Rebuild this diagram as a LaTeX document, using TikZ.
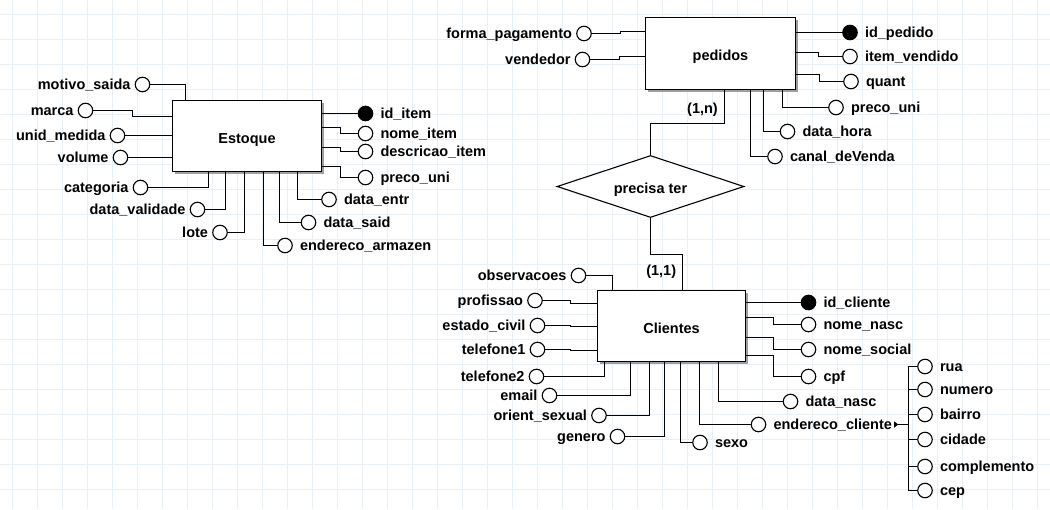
\documentclass[tikz,border=0pt]{standalone}
\usepackage{fontspec}
\setmainfont{Liberation Sans}
\usepackage{tikz}
\usetikzlibrary{shapes,arrows.meta}
\usetikzlibrary{positioning}
\usetikzlibrary{shadows}
\definecolor{gridblue}{RGB}{232,240,246}
\tikzstyle{entity} = [draw, rectangle, fill=white, line width=1.1pt,
font=\fontsize{14.5}{17}\selectfont\bfseries, text height=14.4pt, text depth=0pt,
drop shadow={shadow xshift=2.5pt, shadow yshift=-2.5pt, fill=gray!75, opacity=1}]
\tikzstyle{relation} = [draw, diamond, fill=white, line width=1.1pt, aspect=3,
minimum width=187pt, minimum height=62pt, inner sep=0pt,
font=\fontsize{14.5}{17}\selectfont\bfseries, text height=14.4pt, text depth=0pt]
\tikzstyle{conn} = [draw, line width=1.1pt]

\begin{document}
\begin{tikzpicture}[x=1pt, y=-1pt,
	attr/.style={circle, draw, fill=white, line width=1.1pt, minimum size=14.5pt, inner sep=0pt},
	pkattr/.style={attr, fill=black},
	lbl/.style={font=\fontsize{14.5}{17}\selectfont\bfseries, text height=10.4pt, text depth=0pt, inner sep=0pt}]
	\useasboundingbox (0,0) rectangle (1050,509);
	%% Grid
	\foreach \gx in {12.5,37.5,...,1037.5}
		\draw[gridblue, line width=0.9pt] (\gx,0) -- (\gx,509);
	\foreach \gy in {14,39,...,489}
		\draw[gridblue, line width=0.9pt] (0,\gy) -- (1050,\gy);

	%% Entities
	\node[entity, minimum width=149pt, minimum height=71pt] (estoque) at (247,136) {Estoque};
	\node[entity, minimum width=150pt, minimum height=72pt] (pedidos) at (720.5,53.5) {pedidos};
	\node[entity, minimum width=148pt, minimum height=71pt] (clientes) at (671.5,326) {Clientes};
	\node[relation] (precisa) at (650.5,186.5) {precisa ter};

	%% Estoque attributes
	\node[pkattr] (c-iditem) at (365.5,113.5) {};
	\node[lbl, right=7pt of c-iditem] (t-iditem) {id\_item};
	\node[attr] (c-nomeitem) at (365.5,133.5) {};
	\node[lbl, right=7pt of c-nomeitem] (t-nomeitem) {nome\_item};
	\node[attr] (c-descr) at (365.5,151.5) {};
	\node[lbl, right=7pt of c-descr] (t-descr) {descricao\_item};
	\node[attr] (c-precoE) at (365.5,177.5) {};
	\node[lbl, right=7pt of c-precoE] (t-precoE) {preco\_uni};
	\node[attr] (c-dataentr) at (329,199.5) {};
	\node[lbl, right=7pt of c-dataentr] (t-dataentr) {data\_entr};
	\node[attr] (c-datasaid) at (308.5,222.5) {};
	\node[lbl, right=7pt of c-datasaid] (t-datasaid) {data\_said};
	\node[attr] (c-endarm) at (285,245.5) {};
	\node[lbl, right=7pt of c-endarm] (t-endarm) {endereco\_armazen};
	\node[attr] (c-lote) at (220,232.5) {};
	\node[lbl, left=4pt of c-lote] (t-lote) {lote};
	\node[attr] (c-validade) at (197.5,209.5) {};
	\node[lbl, left=4pt of c-validade] (t-validade) {data\_validade};
	\node[attr] (c-categoria) at (140.5,187.5) {};
	\node[lbl, left=4pt of c-categoria] (t-categoria) {categoria};
	\node[attr] (c-volume) at (120.5,157.5) {};
	\node[lbl, left=4pt of c-volume] (t-volume) {volume};
	\node[attr] (c-unid) at (117.5,135.5) {};
	\node[lbl, left=4pt of c-unid] (t-unid) {unid\_medida};
	\node[attr] (c-marca) at (85.5,110.5) {};
	\node[lbl, left=4pt of c-marca] (t-marca) {marca};
	\node[attr] (c-motivo) at (142.5,84.5) {};
	\node[lbl, left=4pt of c-motivo] (t-motivo) {motivo\_saida};

	\draw[conn] (c-iditem) -- (c-iditem -| estoque.east);
	\draw[conn] (estoque.east |- 0,127.5) -- (340.5,127.5) |- (c-nomeitem);
	\draw[conn] (estoque.east |- 0,147.5) -- (340.5,147.5) |- (c-descr);
	\draw[conn] (estoque.east |- 0,166.5) -- (340.5,166.5) |- (c-precoE);
	\draw[conn] (estoque.south -| 297.5,0) |- (c-dataentr);
	\draw[conn] (estoque.south -| 279.5,0) |- (c-datasaid);
	\draw[conn] (estoque.south -| 263.5,0) |- (c-endarm);
	\draw[conn] (estoque.south -| 244.5,0) |- (c-lote);
	\draw[conn] (estoque.south -| 225.5,0) |- (c-validade);
	\draw[conn] (estoque.south -| 208.5,0) |- (c-categoria);
	\draw[conn] (c-volume) -- (c-volume -| estoque.west);
	\draw[conn] (c-unid) -- (c-unid -| estoque.west);
	\draw[conn] (c-marca) -| (132.5,116.5) -- (estoque.west |- 0,116.5);
	\draw[conn] (c-motivo) -| (estoque.north -| 185.5,0);

	%% pedidos attributes
	\node[attr] (c-formapag) at (584,33.5) {};
	\node[lbl, left=4pt of c-formapag] (t-formapag) {forma\_pagamento};
	\node[attr] (c-vendedor) at (582.5,59.5) {};
	\node[lbl, left=4pt of c-vendedor] (t-vendedor) {vendedor};
	\node[pkattr] (c-idpedido) at (850,32.5) {};
	\node[lbl, right=7pt of c-idpedido] (t-idpedido) {id\_pedido};
	\node[attr] (c-itemvend) at (850,56.5) {};
	\node[lbl, right=7pt of c-itemvend] (t-itemvend) {item\_vendido};
	\node[attr] (c-quant) at (851,81.5) {};
	\node[lbl, right=7pt of c-quant] (t-quant) {quant};
	\node[attr] (c-precoP) at (836,107.5) {};
	\node[lbl, right=7pt of c-precoP] (t-precoP) {preco\_uni};
	\node[attr] (c-datahora) at (787.5,131.5) {};
	\node[lbl, right=7pt of c-datahora] (t-datahora) {data\_hora};
	\node[attr] (c-canal) at (775,156.5) {};
	\node[lbl, right=7pt of c-canal] (t-canal) {canal\_deVenda};

	\draw[conn] (c-formapag) -- (620.5,33.5) -- (620.5,31.5) -- (pedidos.west |- 0,31.5);
	\draw[conn] (c-vendedor) -- (619.5,59.5) -- (619.5,56.5) -- (pedidos.west |- 0,56.5);
	\draw[conn] (c-idpedido) -- (c-idpedido -| pedidos.east);
	\draw[conn] (pedidos.east |- 0,52.5) -- (818.5,52.5) |- (c-itemvend);
	\draw[conn] (pedidos.east |- 0,74.5) -- (819.5,74.5) |- (c-quant);
	\draw[conn] (pedidos.south -| 782.5,0) |- (c-precoP);
	\draw[conn] (pedidos.south -| 763.5,0) |- (c-datahora);
	\draw[conn] (pedidos.south -| 750.5,0) |- (c-canal);

	%% Relationship
	\draw[conn] (pedidos.south -| 724.5,0) |- (precisa.north |- 0,123.5) -- (precisa.north);
	\node[lbl] (card-n) at (702.5,108.5) {(1,n)};
	\draw[conn] (precisa.south) |- (682.5,254.5) -- (clientes.north -| 682.5,0);
	\node[lbl] (card-1) at (661.2,270.5) {(1,1)};

	%% Clientes attributes
	\node[pkattr] (c-idcli) at (808.5,302.5) {};
	\node[lbl, right=7pt of c-idcli] (t-idcli) {id\_cliente};
	\node[attr] (c-nomenasc) at (808.5,324.5) {};
	\node[lbl, right=7pt of c-nomenasc] (t-nomenasc) {nome\_nasc};
	\node[attr] (c-nomesoc) at (808.5,349.5) {};
	\node[lbl, right=7pt of c-nomesoc] (t-nomesoc) {nome\_social};
	\node[attr] (c-cpf) at (808.5,376.5) {};
	\node[lbl, right=7pt of c-cpf] (t-cpf) {cpf};
	\node[attr] (c-datanasc) at (790.5,401.5) {};
	\node[lbl, right=7pt of c-datanasc] (t-datanasc) {data\_nasc};
	\node[attr] (c-endcli) at (758.5,424.5) {};
	\node[lbl, right=7pt of c-endcli] (t-endcli) {endereco\_cliente};
	\node[attr] (c-sexo) at (700,442.5) {};
	\node[lbl, right=7pt of c-sexo] (t-sexo) {sexo};
	\node[attr] (c-genero) at (617.5,436.5) {};
	\node[lbl, left=4pt of c-genero] (t-genero) {genero};
	\node[attr] (c-orient) at (599,415.5) {};
	\node[lbl, left=4pt of c-orient] (t-orient) {orient\_sexual};
	\node[attr] (c-email) at (549.5,395.5) {};
	\node[lbl, left=4pt of c-email] (t-email) {email};
	\node[attr] (c-tel2) at (536.5,376.5) {};
	\node[lbl, left=4pt of c-tel2] (t-tel2) {telefone2};
	\node[attr] (c-tel1) at (537.5,349.5) {};
	\node[lbl, left=4pt of c-tel1] (t-tel1) {telefone1};
	\node[attr] (c-civil) at (537.5,325.5) {};
	\node[lbl, left=4pt of c-civil] (t-civil) {estado\_civil};
	\node[attr] (c-profissao) at (535,300.5) {};
	\node[lbl, left=4pt of c-profissao] (t-profissao) {profissao};
	\node[attr] (c-obs) at (578.5,275.5) {};
	\node[lbl, left=4pt of c-obs] (t-obs) {observacoes};

	\draw[conn] (c-idcli) -- (c-idcli -| clientes.east);
	\draw[conn] (clientes.east |- 0,317.5) -- (773.5,317.5) |- (c-nomenasc);
	\draw[conn] (clientes.east |- 0,337.5) -- (773.5,337.5) |- (c-nomesoc);
	\draw[conn] (clientes.east |- 0,355.5) -- (773.5,355.5) |- (c-cpf);
	\draw[conn] (clientes.south -| 718.5,0) |- (c-datanasc);
	\draw[conn] (clientes.south -| 699.5,0) |- (c-endcli);
	\draw[conn] (clientes.south -| 680.5,0) |- (c-sexo);
	\draw[conn] (clientes.south -| 664.5,0) |- (c-genero);
	\draw[conn] (clientes.south -| 649.5,0) |- (c-orient);
	\draw[conn] (clientes.south -| 630.5,0) |- (c-email);
	\draw[conn] (clientes.south -| 604.5,0) |- (c-tel2);
	\draw[conn] (c-tel1) -- (570.5,349.5) -- (570.5,350.5) -- (clientes.west |- 0,350.5);
	\draw[conn] (c-civil) -- (570.5,325.5) -- (570.5,326.5) -- (clientes.west |- 0,326.5);
	\draw[conn] (c-profissao) -- (570.5,300.5) -- (570.5,303.5) -- (clientes.west |- 0,303.5);
	\draw[conn] (c-obs) -| (clientes.north -| 612.5,0);

	%% endereco_cliente parts
	\coordinate (bus) at (908.5,424.5);
	\node[attr] (c-rua) at (925,366.5) {};
	\node[lbl, right=7pt of c-rua] (t-rua) {rua};
	\node[attr] (c-numero) at (925,389.5) {};
	\node[lbl, right=7pt of c-numero] (t-numero) {numero};
	\node[attr] (c-bairro) at (925,414.5) {};
	\node[lbl, right=7pt of c-bairro] (t-bairro) {bairro};
	\node[attr] (c-cidade) at (925,439.5) {};
	\node[lbl, right=7pt of c-cidade] (t-cidade) {cidade};
	\node[attr] (c-compl) at (925,466.5) {};
	\node[lbl, right=7pt of c-compl] (t-compl) {complemento};
	\node[attr] (c-cep) at (925,490.5) {};
	\node[lbl, right=7pt of c-cep] (t-cep) {cep};
	\draw[conn] (c-rua) -| (bus);
	\draw[conn] (c-numero) -| (bus);
	\draw[conn] (c-bairro) -| (bus);
	\draw[conn] (c-cidade) -| (bus);
	\draw[conn] (c-compl) -| (bus);
	\draw[conn] (c-cep) -| (bus);
	\draw[conn, {Triangle[length=4pt,width=6pt,reversed]}-] ([xshift=2pt]t-endcli.east) -- (bus);
\end{tikzpicture}
\end{document}
